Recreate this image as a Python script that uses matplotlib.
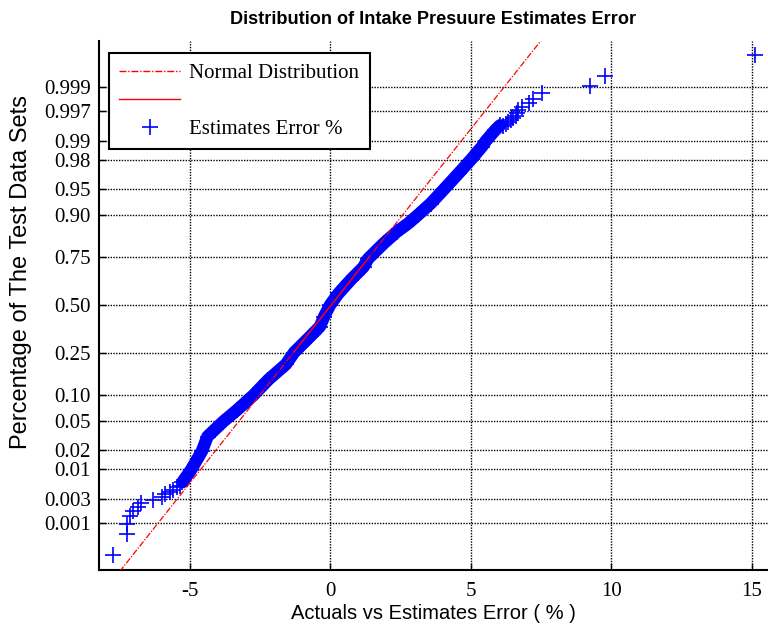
from statistics import NormalDist

import numpy as np
import matplotlib
matplotlib.use("Agg")
import matplotlib.pyplot as plt
from matplotlib.lines import Line2D

plt.rcParams['axes.unicode_minus'] = False

# number of test data sets in the error sample
N_SETS = 2600

# smallest errors, ranks 1, 2, 3, ...
low_tail_err = [-7.71, -7.24, -7.22, -7.11, -7.02, -6.82, -6.73, -6.29,
                -5.99, -5.87, -5.69, -5.57, -5.43, -5.34]
# largest errors, ranks N, N-1, N-2, ...
high_tail_err = [15.12, 9.78, 9.25, 7.53, 7.23, 7.09, 6.82, 6.70,
                 6.64, 6.60, 6.52, 6.45, 6.34, 6.25, 6.17]

# body of the sample: cumulative probability -> error (%)
body_prob = [0.006, 0.0096, 0.019, 0.031, 0.049, 0.068, 0.10, 0.145, 0.20,
             0.25, 0.33, 0.38, 0.435, 0.50, 0.565, 0.64, 0.705, 0.745, 0.81,
             0.85, 0.877, 0.90, 0.925, 0.95, 0.969, 0.981, 0.9876, 0.990,
             0.9934, 0.9946]
body_err = [-5.25, -4.95, -4.56, -4.36, -3.80, -3.31, -2.73, -2.19, -1.57,
            -1.28, -0.69, -0.36, -0.21, 0.00, 0.30, 0.74, 1.19, 1.36, 1.92,
            2.37, 2.79, 3.14, 3.58, 4.06, 4.57, 5.04, 5.40, 5.54, 5.87, 6.05]

# fitted normal distribution
fit_mu = 0.04
fit_sigma = 1.99

prob_ticks = [0.001, 0.003, 0.01, 0.02, 0.05, 0.10, 0.25, 0.50, 0.75,
              0.90, 0.95, 0.98, 0.99, 0.997, 0.999]
prob_labels = ['0.001', '0.003', '0.01', '0.02', '0.05', '0.10', '0.25',
               '0.50', '0.75', '0.90', '0.95', '0.98', '0.99', '0.997',
               '0.999']
x_ticks = [-5, 0, 5, 10, 15]

nd = NormalDist()


def probit(p):
    p = np.clip(np.asarray(p, dtype=float), 1e-12, 1 - 1e-12)
    return np.vectorize(nd.inv_cdf, otypes=[float])(p)


def norm_cdf(z):
    return np.vectorize(nd.cdf, otypes=[float])(np.asarray(z, dtype=float))


# plotting positions (i - 0.5) / n for the ranked tails
low_rank = np.arange(1, len(low_tail_err) + 1)
high_rank = N_SETS - np.arange(len(high_tail_err))
low_prob = (low_rank - 0.5) / N_SETS
high_prob = (high_rank - 0.5) / N_SETS

serif = 'Liberation Serif'
sans = 'Liberation Sans'
blue = (0, 0, 1)
dash_dot = (5, 1.3, 1, 1.3)

fig = plt.figure(figsize=(7.68, 6.28), dpi=100)
ax = fig.add_axes([99 / 768, 1 - 570 / 628, 669 / 768, 529 / 628])
ax.set_yscale('function', functions=(probit, norm_cdf))

mark = dict(ls='none', marker='+', ms=11, mew=1.2, color=blue, zorder=3)
ax.plot(body_err, body_prob, color=blue, lw=9, solid_capstyle='round',
        solid_joinstyle='round', zorder=2)
ax.plot(body_err, body_prob, **mark)
ax.plot(low_tail_err, low_prob, **mark)
ax.plot(high_tail_err, high_prob, **mark)

# reference line of the fitted normal: dash-dot over the range,
# solid between the quartiles
z_span = np.array([-4.5, 4.5])
ax.plot(fit_mu + fit_sigma * z_span, norm_cdf(z_span), color='red', lw=0.9,
        dashes=dash_dot, zorder=4)
z_q = np.array([probit(0.25), probit(0.75)])
ax.plot(fit_mu + fit_sigma * z_q, norm_cdf(z_q), color='red', lw=0.9, zorder=4)

ax.set_xlim(-8.22, 15.58)
ax.set_ylim(norm_cdf(-3.76), norm_cdf(3.745))
ax.set_xticks(x_ticks)
ax.set_xticklabels([str(v) for v in x_ticks])
ax.set_yticks(prob_ticks)
ax.set_yticklabels(prob_labels)
ax.minorticks_off()

ax.set_axisbelow(True)
ax.grid(True, color='black', linestyle=(0, (1, 1)), linewidth=1.0)

for side in ('top', 'right'):
    ax.spines[side].set_visible(False)
for side in ('left', 'bottom'):
    ax.spines[side].set_linewidth(1.5)
ax.tick_params(direction='in', length=5, width=1, colors='black',
               labelsize=15)
ax.tick_params(axis='x', pad=9)
ax.tick_params(axis='y', pad=6)
for lab in ax.get_xticklabels() + ax.get_yticklabels():
    lab.set_family(serif)

ax.set_title('Distribution of Intake Presuure Estimates Error',
             family=sans, fontsize=13.1, fontweight='bold', pad=12)
ax.set_xlabel('Actuals vs Estimates Error ( % )', family=sans, fontsize=14.5,
              labelpad=2)
ax.set_ylabel('Percentage of The Test Data Sets', family=sans, fontsize=17)
ax.yaxis.set_label_coords(-0.1, (570 - 272) / 529)

handles = [Line2D([], [], color='red', lw=1, dashes=dash_dot),
           Line2D([], [], color='red', lw=1),
           Line2D([], [], ls='none', marker='+', ms=11, mew=1.2, color=blue)]
labels = ['Normal Distribution', '', 'Estimates Error %']
leg = ax.legend(handles, labels, loc='upper left',
                bbox_to_anchor=(109 / 768, 1 - 53 / 628),
                bbox_transform=fig.transFigure, borderaxespad=0,
                fancybox=False, framealpha=1,
                prop={'family': serif, 'size': 15}, handlelength=2.9,
                handletextpad=0.45, labelspacing=0.4, borderpad=0.5)
leg.get_frame().set_edgecolor('black')
leg.get_frame().set_linewidth(1.5)
leg.set_zorder(10)

fig.savefig('out.png', dpi=100)
